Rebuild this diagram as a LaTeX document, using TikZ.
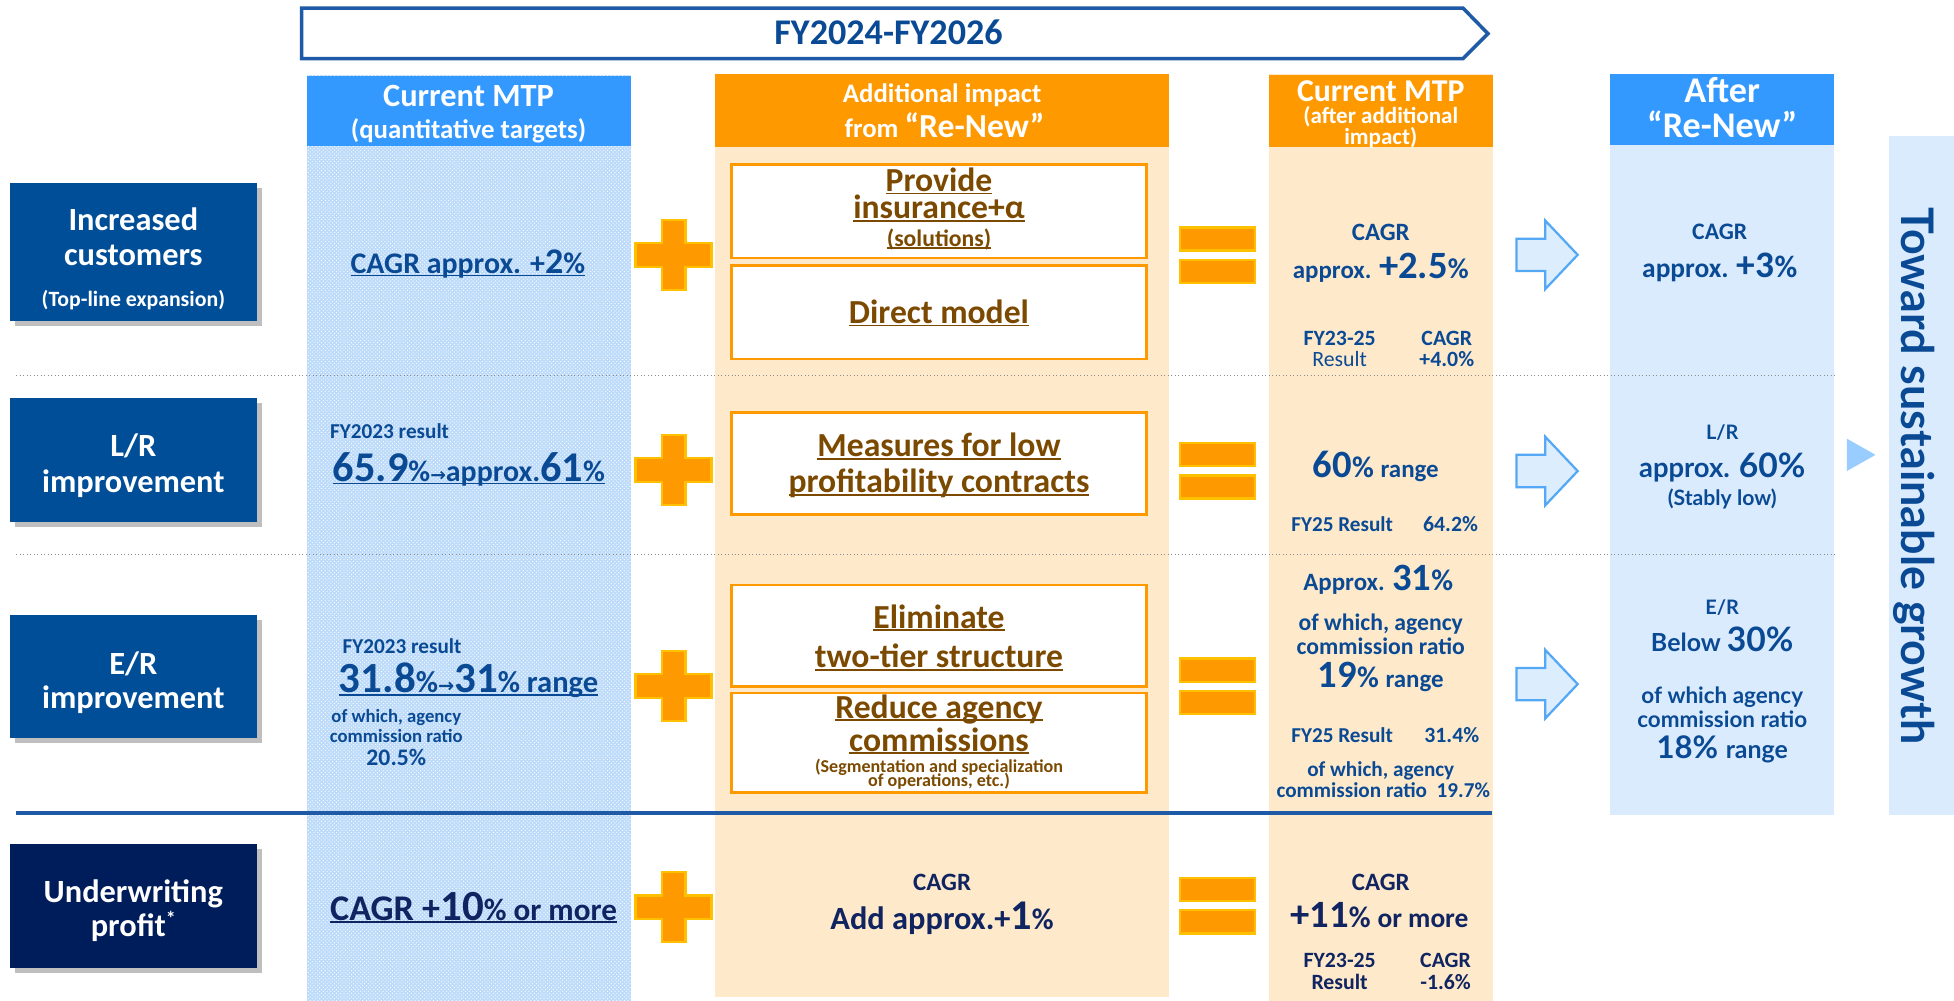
\documentclass[tikz,border=0pt]{standalone}
\usepackage{fontspec}
\setmainfont{Carlito}
\newfontfamily\lato{Lato}
\newfontfamily\dv{DejaVu Sans}
\usetikzlibrary{shadows,patterns}
\definecolor{boxblue}{HTML}{004E98}
\definecolor{navybox}{HTML}{001D5B}
\definecolor{txtblue}{HTML}{0A4A94}
\definecolor{navytxt}{HTML}{0F2460}
\definecolor{brownt}{HTML}{7B4A00}
\definecolor{orangec}{HTML}{FF9900}
\definecolor{yellowedge}{HTML}{FFC000}
\definecolor{peach}{HTML}{FEE9CB}
\definecolor{lightblue}{HTML}{DAEBFD}
\definecolor{headblue}{HTML}{3399FF}
\definecolor{hatchbase}{HTML}{BCDAF9}
\definecolor{arrowedge}{HTML}{55A8F5}
\definecolor{arrowfill}{HTML}{DCEEFD}
\definecolor{tric}{HTML}{99CCFF}
\definecolor{bannerc}{HTML}{1F5AA6}
\newcommand\fs[1]{\fontsize{#1}{#1}\selectfont}
\newcommand\ulin[1]{\setbox0\hbox{#1}\leavevmode\rlap{\rule[-2.3pt]{\wd0}{1.3pt}}\box0}
\newcommand\stackc[2]{\vtop{\baselineskip=#1\lineskiplimit=-1000pt\lineskip=0pt\halign{\hfil##\hfil\cr #2\crcr}}}
\tikzset{
  leftbox/.style={fill=#1, minimum width=198, drop shadow={shadow xshift=4pt, shadow yshift=-4pt, opacity=0.25, fill=black}},
  innerbox/.style={draw=orangec, fill=white, line width=2.2},
  plussign/.pic={\draw[yellowedge,fill=orangec,line width=1.8] (-9.5,-28) -- (9.5,-28) -- (9.5,-9.5) -- (30.5,-9.5) -- (30.5,9.5) -- (9.5,9.5) -- (9.5,28) -- (-9.5,28) -- (-9.5,9.5) -- (-30.5,9.5) -- (-30.5,-9.5) -- (-9.5,-9.5) -- cycle;},
  eqsign/.pic={\draw[yellowedge,fill=orangec,line width=1.8] (-30,-22.5) rectangle (30,-4); \draw[yellowedge,fill=orangec,line width=1.8] (-30,3.5) rectangle (30,22);},
  hollowarrow/.pic={\draw[arrowedge,fill=arrowfill,line width=1.8,line join=miter] (-24.5,-13) -- (-1.5,-13) -- (-1.5,-27.5) -- (24.5,0) -- (-1.5,27.5) -- (-1.5,13) -- (-24.5,13) -- cycle;},
  tb/.style={anchor=base, text=txtblue},
  tn/.style={anchor=base, text=navytxt},
  tw/.style={anchor=base, text=white},
  tbr/.style={anchor=base, text=brownt},
  tl/.style={anchor=base, text=txtblue, font=\lato\bfseries}
}
\begin{document}
\begin{tikzpicture}[x=1pt,y=-1pt,every node/.style={inner sep=0pt,outer sep=0pt,font=\bfseries}]
\useasboundingbox (0,0) rectangle (1568,803);
\fill[white] (0,0) rectangle (1568,803);
% columns
\fill[hatchbase] (246,60) rectangle (506.5,803);
\fill[pattern=crosshatch dots, pattern color=white] (246,60) rectangle (506.5,803);
\fill[headblue] (246,61) rectangle (506.5,117);
\fill[peach] (574,59) rectangle (938,800);
\fill[orangec] (574,59) rectangle (938,118);
\fill[peach] (1018,59) rectangle (1198,803);
\fill[orangec] (1018,60) rectangle (1198,118);
\fill[lightblue] (1292,59) rectangle (1472,654);
\fill[headblue] (1292,59) rectangle (1472,116);
\fill[lightblue] (1516,109) rectangle (1568,654);
% separators
\draw[dotted, black!45, line width=0.8] (13,301) -- (1472,301);
\draw[dotted, black!45, line width=0.8] (13,445) -- (1472,445);
\draw[bannerc, line width=3] (13,652.6) -- (1197,652.6);
% banner
\draw[bannerc,line width=2.8,fill=white] (242,6.5) -- (1174,6.5) -- (1194,27) -- (1174,47) -- (242,47) -- cycle;
\node[tb] (banner) at (713,36) {\fs{29}FY2024-FY2026};
% headers
\node[tw] (h1a) at (376,85.6) {\fs{26}Current MTP};
\node[tw] (h1b) at (376,111.5) {\fs{21.5}(quantitative targets)};
\node[tw] (h2a) at (756,82.5) {\fs{21.5}Additional impact};
\node[tw] (h2b) at (758,110) {\fs{21.5}from \fs{27}“Re-New”};
\node[tw] (h3a) at (1108,81.5) {\fs{25.5}Current MTP};
\node[tw] (h3b) at (1108,99.5) {\fs{18.5}(after additional};
\node[tw] (h3c) at (1108,116) {\fs{18.5}impact)};
\node[tw] (h4a) at (1382,82.5) {\fs{29}After};
\node[tw] (h4b) at (1382,110) {\fs{29}“Re-New”};
% left boxes
\node[leftbox=boxblue, minimum height=111] (lb1) at (107,202.4) {};
\node[leftbox=boxblue, minimum height=100] (lb2) at (107,369) {};
\node[leftbox=boxblue, minimum height=99] (lb3) at (107,543) {};
\node[leftbox=navybox, minimum height=99.6] (lb4) at (107,727.2) {};
\node[tw] (lb1a) at (107,184.8) {\fs{26}Increased};
\node[tw] (lb1b) at (107,212.7) {\fs{26}customers};
\node[tw] (lb1c) at (107,246) {\fs{17.5}(Top-line expansion)};
\node[tw] (lb2a) at (107,366.7) {\fs{26}L/R};
\node[tw] (lb2b) at (107,395.5) {\fs{26}improvement};
\node[tw] (lb3a) at (107,541) {\fs{26}E/R};
\node[tw] (lb3b) at (107,568.5) {\fs{26}improvement};
\node[tw] (lb4a) at (107,724.6) {\fs{26}Underwriting};
\node[tw] (lb4b) at (107,751.8) {\fs{26}profit\raisebox{9pt}{\fs{16}*}};
% plus, equals, arrows
\pic at (540.5,204.5) {plussign};
\pic at (540.5,377) {plussign};
\pic at (540.5,550.5) {plussign};
\pic at (540.5,728) {plussign};
\pic at (977,205) {eqsign};
\pic at (977,378) {eqsign};
\pic at (977,551) {eqsign};
\pic at (977,727) {eqsign};
\pic at (1241.5,204.5) {hollowarrow};
\pic at (1241.5,378) {hollowarrow};
\pic at (1241.5,549) {hollowarrow};
\fill[tric] (1482,352) -- (1505,365) -- (1482,378) -- cycle;
% hatched column texts
\node[tb] (c1r1) at (375.5,219.4) {\ulin{\fs{24}CAGR approx. +\fs{29}2\fs{24}\%}};
\node[tb,anchor=base west] (c1r2a) at (265,351.7) {\fs{17}FY2023 result};
\node[tb,anchor=base west] (c1r2b) at (267,386.3) {\ulin{\fs{34}65.9\fs{24}\%{\dv\fs{15}→}approx.\fs{34}61\fs{24}\%}};
\node[tb,anchor=base west] (c1r3a) at (275,524) {\fs{17}FY2023 result};
\node[tb,anchor=base west] (c1r3b) at (272,556) {\ulin{\fs{34.5}31.8\fs{24.5}\%{\dv\fs{15.5}→}\fs{34.5}31\fs{24.5}\% range}};
\node[tb] (c1r3c) at (318,579.6) {\fs{15}of which, agency};
\node[tb] (c1r3d) at (318,595.6) {\fs{15}commission ratio};
\node[tb] (c1r3e) at (318,614) {\fs{19}20.5\%};
\node[tn] (c1r4) at (380,738.3) {\ulin{\fs{29}CAGR +\fs{34.5}10\fs{25}\% or more}};
% orange column boxes
\node[innerbox, minimum width=333, minimum height=75] (ob1) at (753.5,169.5) {};
\node[innerbox, minimum width=333, minimum height=75] (ob2) at (753.5,250.5) {};
\node[innerbox, minimum width=333, minimum height=82] (ob3) at (753.5,372) {};
\node[innerbox, minimum width=333, minimum height=81.5] (ob4) at (753.5,510.2) {};
\node[innerbox, minimum width=333, minimum height=80] (ob5) at (753.5,596) {};
\node[tbr] (ob1a) at (753.5,153.5) {\stackc{22pt}{\ulin{\fs{27}Provide}\cr \ulin{\fs{27}insurance+α}\cr \ulin{\fs{19}(solutions)}}};
\node[tbr] (ob2a) at (753.5,259.5) {\ulin{\fs{27}Direct model}};
\node[tbr] (ob3a) at (753.5,366.7) {\ulin{\fs{27}Measures for low}};
\node[tbr] (ob3b) at (753.5,395.6) {\ulin{\fs{27}profitability contracts}};
\node[tbr] (ob4a) at (753.5,504) {\ulin{\fs{27}Eliminate}};
\node[tbr] (ob4b) at (753.5,536) {\ulin{\fs{27}two-tier structure}};
\node[tbr] (ob5a) at (753.5,576.3) {\ulin{\fs{27}Reduce agency}};
\node[tbr] (ob5b) at (753.5,602.7) {\ulin{\fs{27}commissions}};
\node[tbr] (ob5c) at (753.5,619.6) {\stackc{11.7pt}{\fs{14.5}(Segmentation and specialization\cr \fs{14.5}of operations, etc.)}};
\node[tn] (o4a) at (756,714.2) {\fs{20}CAGR};
\node[tn] (o4b) at (756,745.6) {\fs{26}Add approx.+\fs{34}1\fs{24}\%};
% current MTP after additional impact
\node[tb] (a1a) at (1108,192.6) {\fs{20}CAGR};
\node[tb] (a1b) at (1108,223.3) {\fs{20}approx. \fs{31}+2.5\fs{23}\%};
\node[tb] (a1c) at (1075,276.9) {\fs{17.5}FY23-25};
\node[tb] (a1d) at (1161,276.9) {\fs{17.5}CAGR};
\node[tb] (a1e) at (1075,294.3) {\fs{17.5}\mdseries Result};
\node[tb] (a1f) at (1161,294.3) {\fs{17.5}+4.0\%};
\node[tb] (a2a) at (1104,383) {\fs{31}60\fs{24}\% \fs{20}range};
\node[tb] (a2b) at (1077,426.8) {\fs{17}FY25 Result};
\node[tb] (a2c) at (1164,426.8) {\fs{17.5}64.2\%};
\node[tb] (a3a) at (1106,474) {\fs{20}Approx. \fs{31}31\fs{24}\%};
\node[tb] (a3b) at (1108,505.6) {\fs{19}of which, agency};
\node[tb] (a3c) at (1108,525.6) {\fs{19}commission ratio};
\node[tb] (a3d) at (1108,552) {\fs{31}19\fs{24}\% \fs{20}range};
\node[tb] (a3e) at (1077,595.5) {\fs{17}FY25 Result};
\node[tb] (a3f) at (1165,595.5) {\fs{17.5}31.4\%};
\node[tb] (a3g) at (1108,623.4) {\fs{17}of which, agency};
\node[tb] (a3h) at (1110,639.8) {\fs{17}commission ratio\ \ 19.7\%};
\node[tn] (a4a) at (1108,714.2) {\fs{20}CAGR};
\node[tn] (a4b) at (1107,744) {\fs{31}+11\fs{24}\% \fs{22}or more};
\node[tn] (a4c) at (1075,776) {\fs{17.5}FY23-25};
\node[tn] (a4d) at (1160,776) {\fs{17.5}CAGR};
\node[tn] (a4e) at (1075,793.9) {\fs{17.5}Result};
\node[tn] (a4f) at (1160,793.9) {\fs{17.5}-1.6\%};
% after Re-New column
\node[tb] (r1a) at (1380,192) {\fs{19}CAGR};
\node[tb] (r1b) at (1380,222.4) {\fs{22}approx. \fs{30}+3\fs{25}\%};
\node[tl] (r2a) at (1382,352.5) {\fs{16}L/R};
\node[tl] (r2b) at (1382,383) {\fs{22}approx. \fs{27}60\%};
\node[tl] (r2c) at (1382,405.4) {\fs{17}(Stably low)};
\node[tl] (r3a) at (1382,493) {\fs{16}E/R};
\node[tl] (r3b) at (1382,523) {\fs{20}Below \fs{27}30\%};
\node[tl] (r3c) at (1382,564.4) {\fs{18}of which agency};
\node[tl] (r3d) at (1382,583.4) {\fs{18}commission ratio};
\node[tl] (r3e) at (1382,609) {\fs{25}18\% \fs{20}range};
% toward
\node[text=txtblue, font=\lato\bfseries, rotate=-90] (toward) at (1536,382) {\fs{36}Toward sustainable growth};
\end{tikzpicture}
\end{document}
